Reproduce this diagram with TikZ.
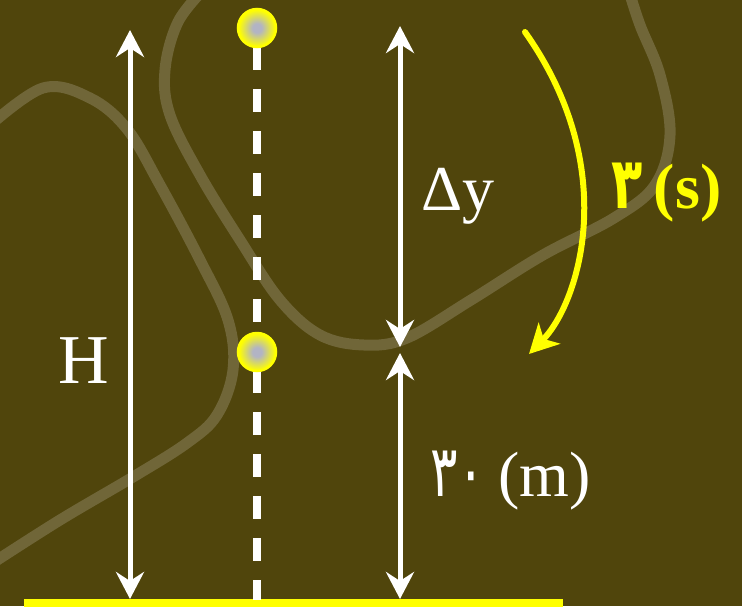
\documentclass[tikz,border=0pt]{standalone}
\usepackage{fontspec}
\setmainfont{Liberation Serif}
\newfontfamily\fa[Script=Arabic]{DejaVu Sans}
\usetikzlibrary{arrows.meta}
\definecolor{bg}{RGB}{80,69,12}
\definecolor{road}{RGB}{112,102,56}
\definecolor{dotgray}{RGB}{178,180,196}
\definecolor{ylw}{RGB}{255,255,0}
\pgfdeclareradialshading{dotshade}{\pgfpoint{0bp}{0bp}}{color(0bp)=(dotgray); color(6bp)=(dotgray); color(24bp)=(ylw); color(50bp)=(ylw)}
\newcommand{\pdig}[1]{\scalebox{0.8}[1.12]{\fa #1}}
\begin{document}
\begin{tikzpicture}[x=1pt,y=-1pt,
  roadline/.style={draw=road, line width=11pt, line cap=round, line join=round},
  dim/.style={draw=white, line width=5pt, {Stealth[length=27pt,width=28pt,inset=9pt]}-{Stealth[length=27pt,width=28pt,inset=9pt]}},
  ball/.style={circle, minimum size=38pt, inner sep=0pt, shade, shading=dotshade, draw=ylw, line width=2.5pt},
  drop/.style={draw=white, line width=8pt, dash pattern=on 23pt off 19pt},
  yline/.style={draw=ylw, line width=6pt, line cap=round, -{Stealth[length=29pt,width=30pt,inset=8pt]}},
  lbl/.style={inner sep=0pt, anchor=base west, font=\fontsize{64}{66}\selectfont},
  ]
\fill[bg] (0,0) rectangle (742,606);
\useasboundingbox (0,0) rectangle (742,606);
\begin{scope}
\clip (0,0) rectangle (742,606);
\draw[roadline] plot[smooth, tension=0.6] coordinates {(-12,127) (43,88) (90,98) (127,129) (160,185) (200,260) (228,320) (233,370) (217,415) (187,443) (133,477) (60,520) (-12,566)};
\draw[roadline] plot[smooth, tension=0.6] coordinates {(205,-12) (178,22) (165,70) (170,115) (200,175) (240,240) (280,300) (320,335) (364,345) (407,338) (471,300) (543,255) (614,218) (655,185) (670,135) (660,75) (640,25) (628,-12)};
\end{scope}
% ground
\node[fill=ylw, inner sep=0pt, minimum width=539pt, minimum height=8pt, anchor=north west] (ground) at (24,599) {};
% balls
\coordinate (topc) at (257,28);
\coordinate (midc) at (257,352);
\draw[drop] (257,47) -- (257,334);
\draw[drop] (257,370) -- (257,600);
\node[ball] (top) at (topc) {};
\node[ball] (mid) at (midc) {};
% dimension arrows
\coordinate (Htop) at (130,30);
\coordinate (Dtop) at (400,26);
\coordinate (Dmid) at (400,347);
\coordinate (Dlow) at (400,353);
\draw[dim] (Htop) -- (Htop |- ground.north);
\draw[dim] (Dtop) -- (Dmid);
\draw[dim] (Dlow) -- (Dlow |- ground.north);
% time arrow
\coordinate (cs) at (525,32);
\coordinate (ce) at (529,354);
\draw[yline] (cs) .. controls (622,169) and (579,303) .. (ce);
% labels
\node[lbl, text=white, font=\fontsize{70}{72}\selectfont] (H) at (58,383) {H};
\node[lbl, text=white] (dy) at (421,210) {Δy};
\node[lbl, text=ylw, font=\fontsize{64}{66}\selectfont\bfseries] (ts) at (611,208) {\pdig{۳}\hspace{0.18em}(s)};
\node[lbl, text=white] (hm) at (430,496) {\pdig{۳۰}\hspace{0.2em}(m)};
\end{tikzpicture}
\end{document}
